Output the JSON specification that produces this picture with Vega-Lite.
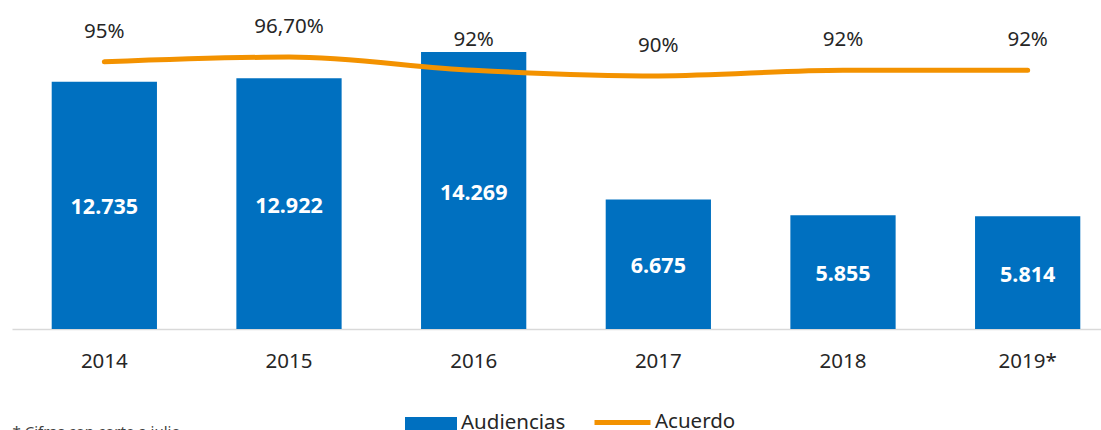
{
  "$schema": "https://vega.github.io/schema/vega-lite/v6.json",
  "width": 1089,
  "height": 329,
  "autosize": {"type": "none"},
  "padding": {"left": 12, "top": 0, "right": 0, "bottom": 101},
  "config": {
    "view": {"stroke": null},
    "font": "Noto Sans",
    "locale": {"number": {"decimal": ",", "thousands": ".", "grouping": [3], "currency": ["", ""]}}
  },
  "data": {
    "values": [
      {"year": "2014", "Audiencias": 12735, "Acuerdo": 0.95, "AcuerdoLabel": "95%"},
      {"year": "2015", "Audiencias": 12922, "Acuerdo": 0.967, "AcuerdoLabel": "96,70%"},
      {"year": "2016", "Audiencias": 14269, "Acuerdo": 0.92, "AcuerdoLabel": "92%"},
      {"year": "2017", "Audiencias": 6675, "Acuerdo": 0.90, "AcuerdoLabel": "90%"},
      {"year": "2018", "Audiencias": 5855, "Acuerdo": 0.92, "AcuerdoLabel": "92%"},
      {"year": "2019*", "Audiencias": 5814, "Acuerdo": 0.92, "AcuerdoLabel": "92%"}
    ]
  },
  "encoding": {
    "x": {
      "field": "year",
      "type": "nominal",
      "sort": null,
      "scale": {"range": [0, 1108], "paddingInner": 0.43, "paddingOuter": 0.215},
      "axis": {
        "title": "* Cifras con corte a julio",
        "titleX": 0,
        "titleY": 95,
        "titleAlign": "left",
        "titleAnchor": "start",
        "titleBaseline": "top",
        "titleFontSize": 15,
        "titleFontWeight": "normal",
        "titleColor": "#404040",
        "labelAngle": 0,
        "labelFontSize": 20.5,
        "labelColor": "#262626",
        "labelPadding": 22,
        "ticks": false,
        "domainColor": "#d9d9d9",
        "domainWidth": 1.5,
        "grid": false
      }
    }
  },
  "layer": [
    {
      "layer": [
        {
          "mark": {"type": "bar"},
          "encoding": {
            "y": {"field": "Audiencias", "type": "quantitative", "scale": {"domain": [0, 16950], "nice": false}, "axis": null},
            "fill": {
              "datum": "Audiencias",
              "type": "nominal",
              "scale": {"range": ["#0070C0"]},
              "legend": {
                "orient": "none",
                "legendX": 393,
                "legendY": 400,
                "title": null,
                "symbolType": "M-1,-0.35H1V0.35H-1Z",
                "symbolSize": 2704,
                "symbolStrokeWidth": 0,
                "labelFontSize": 20.5,
                "labelColor": "#262626",
                "labelOffset": 4,
                "padding": 0,
                "labelLimit": 300,
                "encode": {"labels": {"update": {"dy": {"value": -3}}}}
              }
            }
          }
        },
        {
          "transform": [{"calculate": "datum.Audiencias / 2", "as": "mid"}],
          "mark": {"type": "text", "color": "white", "fontWeight": "bold", "fontSize": 21.5, "baseline": "middle", "dy": 3},
          "encoding": {
            "y": {"field": "mid", "type": "quantitative"},
            "text": {"field": "Audiencias", "type": "quantitative", "format": ",d"}
          }
        }
      ]
    },
    {
      "layer": [
        {
          "mark": {"type": "line", "strokeWidth": 5, "strokeCap": "round", "interpolate": "monotone"},
          "encoding": {
            "y": {"field": "Acuerdo", "type": "quantitative", "scale": {"domain": [0, 1.17], "nice": false}, "axis": null},
            "stroke": {
              "datum": "Acuerdo",
              "type": "nominal",
              "scale": {"range": ["#F39200"]},
              "legend": {
                "orient": "none",
                "legendX": 580,
                "legendY": 392,
                "title": null,
                "symbolType": "stroke",
                "symbolSize": 3136,
                "symbolStrokeWidth": 5,
                "labelFontSize": 20.5,
                "labelColor": "#262626",
                "labelOffset": 2,
                "padding": 0,
                "labelLimit": 300,
                "encode": {"labels": {"update": {"dy": {"value": -1}}}}
              }
            }
          }
        },
        {
          "mark": {"type": "text", "fontSize": 20.5, "color": "#262626", "dy": -30, "baseline": "middle"},
          "encoding": {
            "y": {"field": "Acuerdo", "type": "quantitative"},
            "text": {"field": "AcuerdoLabel"}
          }
        }
      ]
    }
  ],
  "resolve": {"scale": {"y": "independent"}}
}
